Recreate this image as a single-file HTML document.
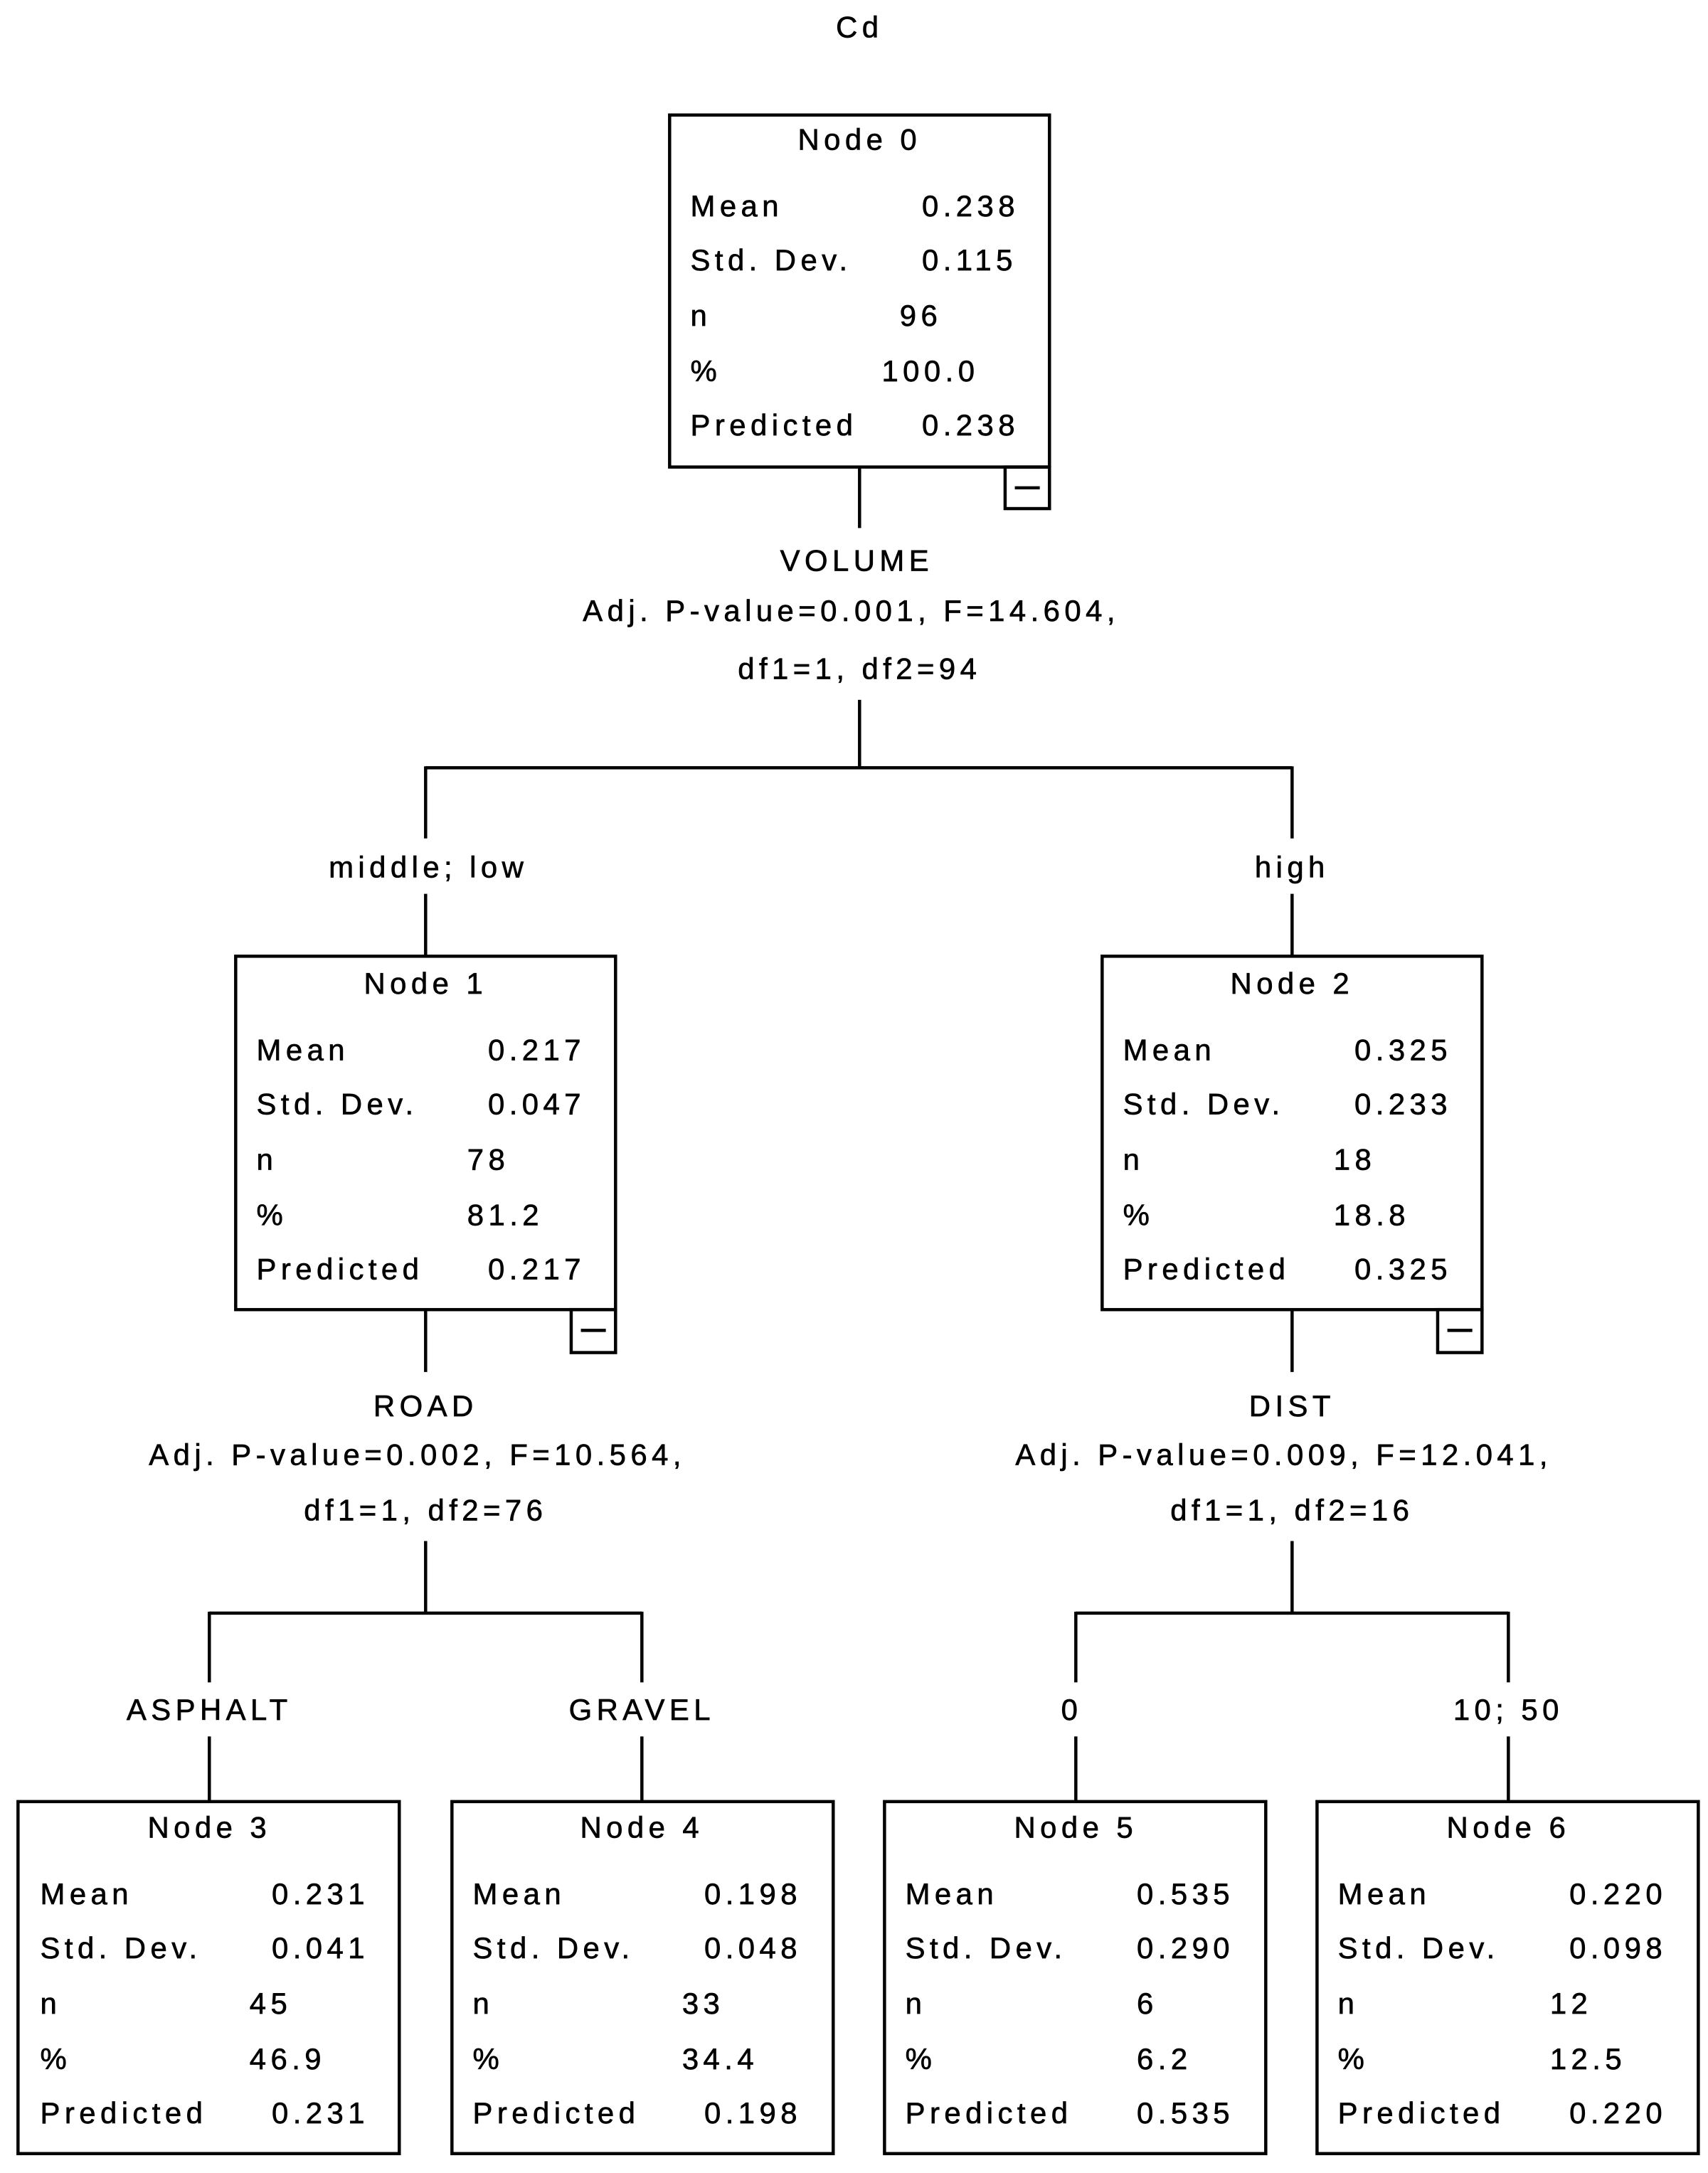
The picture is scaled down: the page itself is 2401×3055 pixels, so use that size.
<!DOCTYPE html>
<html><head><meta charset="utf-8"><style>
html,body{margin:0;padding:0;background:#fff;}
svg{display:block;}
text{font-family:"Liberation Sans",sans-serif;font-size:21.5px;letter-spacing:3.3px;fill:#000;stroke:#000;stroke-width:0.35px;}
</style></head><body>
<svg width="2401" height="3055" viewBox="0 0 1232 1568" preserveAspectRatio="none" xmlns="http://www.w3.org/2000/svg">
<g stroke="#000" stroke-width="2.3" fill="none">
<rect x="483" y="83" width="274" height="254"/>
<rect x="725" y="337" width="32" height="30"/>
<rect x="170" y="690" width="274" height="255"/>
<rect x="412" y="945" width="32" height="31"/>
<rect x="795" y="690" width="274" height="255"/>
<rect x="1037" y="945" width="32" height="31"/>
<rect x="13" y="1300" width="275" height="254"/>
<rect x="326" y="1300" width="275" height="254"/>
<rect x="638" y="1300" width="275" height="254"/>
<rect x="950" y="1300" width="275" height="254"/>
<line x1="732" y1="352" x2="750" y2="352"/>
<line x1="419" y1="960" x2="437" y2="960"/>
<line x1="1044" y1="960" x2="1062" y2="960"/>
<line x1="620" y1="337" x2="620" y2="381"/>
<line x1="620" y1="505" x2="620" y2="554"/>
<line x1="307" y1="554" x2="932" y2="554"/>
<line x1="307" y1="553" x2="307" y2="605"/>
<line x1="932" y1="553" x2="932" y2="605"/>
<line x1="307" y1="645" x2="307" y2="690"/>
<line x1="932" y1="645" x2="932" y2="690"/>
<line x1="307" y1="945" x2="307" y2="990"/>
<line x1="932" y1="945" x2="932" y2="990"/>
<line x1="307" y1="1112" x2="307" y2="1164"/>
<line x1="932" y1="1112" x2="932" y2="1164"/>
<line x1="151" y1="1164" x2="463" y2="1164"/>
<line x1="776" y1="1164" x2="1088" y2="1164"/>
<line x1="151" y1="1163" x2="151" y2="1214"/>
<line x1="463" y1="1163" x2="463" y2="1214"/>
<line x1="776" y1="1163" x2="776" y2="1214"/>
<line x1="1088" y1="1163" x2="1088" y2="1214"/>
<line x1="151" y1="1253" x2="151" y2="1300"/>
<line x1="463" y1="1253" x2="463" y2="1300"/>
<line x1="776" y1="1253" x2="776" y2="1300"/>
<line x1="1088" y1="1253" x2="1088" y2="1300"/>
</g>
<g text-anchor="middle">
<text x="620" y="27">Cd</text>
<text x="618" y="412">VOLUME</text>
<text x="614" y="448">Adj. P-value=0.001, F=14.604,</text>
<text x="620" y="490">df1=1, df2=94</text>
<text x="309" y="633">middle; low</text>
<text x="932" y="633">high</text>
<text x="307" y="1022">ROAD</text>
<text x="301" y="1057">Adj. P-value=0.002, F=10.564,</text>
<text x="307" y="1097">df1=1, df2=76</text>
<text x="932" y="1022">DIST</text>
<text x="926" y="1057">Adj. P-value=0.009, F=12.041,</text>
<text x="932" y="1097">df1=1, df2=16</text>
<text x="151" y="1241">ASPHALT</text>
<text x="463" y="1241">GRAVEL</text>
<text x="773" y="1241">0</text>
<text x="1088" y="1241">10; 50</text>
<text x="620" y="108">Node 0</text>
<text x="307" y="717">Node 1</text>
<text x="932" y="717">Node 2</text>
<text x="151" y="1326">Node 3</text>
<text x="463" y="1326">Node 4</text>
<text x="776" y="1326">Node 5</text>
<text x="1088" y="1326">Node 6</text>
</g>
<g>
<text x="498" y="156">Mean</text><text x="665" y="156">0.238</text>
<text x="498" y="195">Std. Dev.</text><text x="665" y="195">0.115</text>
<text x="498" y="235">n</text><text x="649" y="235">96</text>
<text x="498" y="275">%</text><text x="636" y="275">100.0</text>
<text x="498" y="314">Predicted</text><text x="665" y="314">0.238</text>
</g>
<g>
<text x="185" y="765">Mean</text><text x="352" y="765">0.217</text>
<text x="185" y="804">Std. Dev.</text><text x="352" y="804">0.047</text>
<text x="185" y="844">n</text><text x="337" y="844">78</text>
<text x="185" y="884">%</text><text x="337" y="884">81.2</text>
<text x="185" y="923">Predicted</text><text x="352" y="923">0.217</text>
</g>
<g>
<text x="810" y="765">Mean</text><text x="977" y="765">0.325</text>
<text x="810" y="804">Std. Dev.</text><text x="977" y="804">0.233</text>
<text x="810" y="844">n</text><text x="962" y="844">18</text>
<text x="810" y="884">%</text><text x="962" y="884">18.8</text>
<text x="810" y="923">Predicted</text><text x="977" y="923">0.325</text>
</g>
<g>
<text x="29" y="1374">Mean</text><text x="196" y="1374">0.231</text>
<text x="29" y="1413">Std. Dev.</text><text x="196" y="1413">0.041</text>
<text x="29" y="1453">n</text><text x="180" y="1453">45</text>
<text x="29" y="1493">%</text><text x="180" y="1493">46.9</text>
<text x="29" y="1532">Predicted</text><text x="196" y="1532">0.231</text>
</g>
<g>
<text x="341" y="1374">Mean</text><text x="508" y="1374">0.198</text>
<text x="341" y="1413">Std. Dev.</text><text x="508" y="1413">0.048</text>
<text x="341" y="1453">n</text><text x="492" y="1453">33</text>
<text x="341" y="1493">%</text><text x="492" y="1493">34.4</text>
<text x="341" y="1532">Predicted</text><text x="508" y="1532">0.198</text>
</g>
<g>
<text x="653" y="1374">Mean</text><text x="820" y="1374">0.535</text>
<text x="653" y="1413">Std. Dev.</text><text x="820" y="1413">0.290</text>
<text x="653" y="1453">n</text><text x="820" y="1453">6</text>
<text x="653" y="1493">%</text><text x="820" y="1493">6.2</text>
<text x="653" y="1532">Predicted</text><text x="820" y="1532">0.535</text>
</g>
<g>
<text x="965" y="1374">Mean</text><text x="1132" y="1374">0.220</text>
<text x="965" y="1413">Std. Dev.</text><text x="1132" y="1413">0.098</text>
<text x="965" y="1453">n</text><text x="1118" y="1453">12</text>
<text x="965" y="1493">%</text><text x="1118" y="1493">12.5</text>
<text x="965" y="1532">Predicted</text><text x="1132" y="1532">0.220</text>
</g>
</svg>
</body></html>
